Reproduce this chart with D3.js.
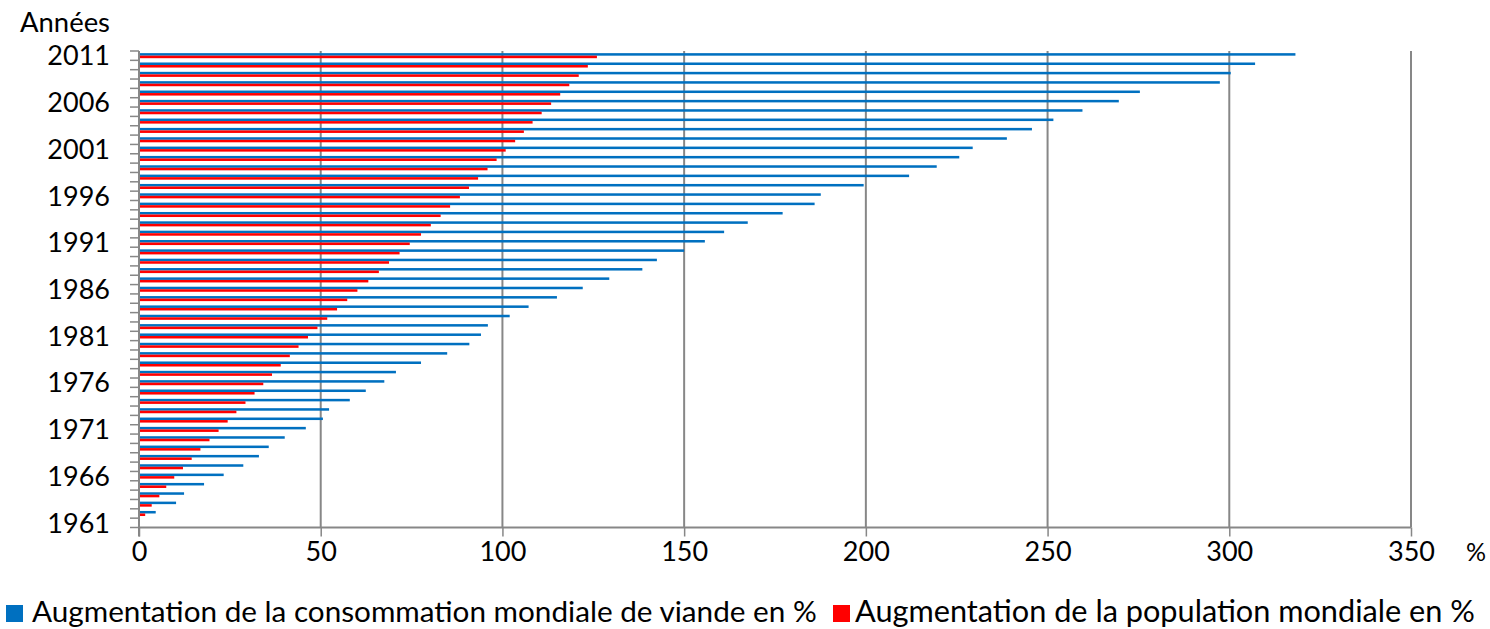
<!DOCTYPE html>
<html>
<head>
<meta charset="utf-8">
<script src="https://cdn.jsdelivr.net/npm/d3@7"></script>
<style>
  body { margin: 0; background: #fff; }
  text { font-family: Lato, "Open Sans", sans-serif; fill: #000; }
</style>
</head>
<body>
<svg width="1490" height="629"></svg>
<script>
// years, bottom (1961) to top (2011)
var years = d3.range(1961, 2012);

// Augmentation de la consommation mondiale de viande en % (1961 -> 2011)
var meat = [0, 4.6, 10.2, 12.4, 17.9, 23.3, 28.7, 33.0, 35.7, 40.1,
  45.9, 50.6, 52.3, 58.0, 62.4, 67.5, 70.7, 77.6, 84.8, 90.9,
  94.1, 96.0, 102.0, 107.2, 115.0, 122.1, 129.4, 138.5, 142.5, 150.0,
  155.7, 161.0, 167.5, 177.1, 185.9, 187.6, 199.4, 211.9, 219.5, 225.7,
  229.4, 238.8, 245.7, 251.6, 259.6, 269.6, 275.4, 297.4, 300.4, 307.1,
  318.2];

// Augmentation de la population mondiale en % (1961 -> 2011)
var population = [0, 1.7, 3.5, 5.6, 7.5, 9.7, 12.1, 14.5, 16.9, 19.4,
  21.9, 24.4, 26.8, 29.3, 31.8, 34.2, 36.6, 39.0, 41.5, 43.9,
  46.5, 49.1, 51.8, 54.5, 57.3, 60.1, 63.1, 66.0, 68.8, 71.7,
  74.5, 77.6, 80.3, 83.0, 85.6, 88.3, 90.8, 93.3, 95.9, 98.4,
  100.9, 103.5, 105.9, 108.3, 110.8, 113.4, 115.9, 118.4, 121.0, 123.5,
  126.0];

var seriesNames = ["Augmentation de la consommation mondiale de viande en %",
                   "Augmentation de la population mondiale en %"];
var seriesColors = ["#0070C0", "#FF0000"];
var xTicks = [0, 50, 100, 150, 200, 250, 300, 350];
var yLabelYears = [2011, 2006, 2001, 1996, 1991, 1986, 1981, 1976, 1971, 1966, 1961];

var gridColor = "#878787";

var svg = d3.select("svg");

var plotLeft = 139, plotRight = 1411, plotTop = 51, plotBottom = 527.5;

var x = d3.scaleLinear().domain([0, 350]).range([plotLeft, plotRight]);
var y = d3.scaleBand().domain(years.slice().reverse()).range([plotTop, plotBottom]);
var inner = d3.scaleBand().domain([0, 1]).range([0, y.bandwidth()])
    .paddingInner(0).paddingOuter(0.85);

var rows = years.map(function (yr, i) {
    return { year: yr, values: [meat[i], population[i]] };
});

// shrink/grow a text's font size so it spans the given width
function fitText(sel, width) {
    var w = sel.node().getComputedTextLength();
    var fs = parseFloat(sel.style("font-size"));
    sel.style("font-size", (fs * width / w) + "px");
}

// vertical gridlines
svg.append("g").selectAll("line")
    .data(xTicks.slice(1))
    .enter().append("line")
    .attr("x1", function (d) { return x(d); })
    .attr("x2", function (d) { return x(d); })
    .attr("y1", plotTop)
    .attr("y2", plotBottom)
    .style("stroke", gridColor)
    .style("stroke-width", 2);

// bars
var groups = svg.append("g").selectAll("g")
    .data(rows)
    .enter().append("g")
    .attr("transform", function (d) { return "translate(0," + y(d.year) + ")"; });

groups.selectAll("rect")
    .data(function (d) { return d.values.map(function (v, k) { return { k: k, v: v }; }); })
    .enter().append("rect")
    .attr("x", x(0))
    .attr("y", function (d) { return inner(d.k); })
    .attr("width", function (d) { return x(d.v) - x(0); })
    .attr("height", inner.bandwidth())
    .attr("fill", function (d) { return seriesColors[d.k]; });

// y axis: ticks on band boundaries
var boundaries = years.map(function (yr) { return y(yr); }).concat([plotBottom]);
svg.append("g").selectAll("line")
    .data(boundaries)
    .enter().append("line")
    .attr("x1", plotLeft - 9)
    .attr("x2", plotLeft)
    .attr("y1", function (d) { return d; })
    .attr("y2", function (d) { return d; })
    .style("stroke", gridColor)
    .style("stroke-width", 1.5);

svg.append("line")
    .attr("x1", plotLeft).attr("x2", plotLeft)
    .attr("y1", plotTop).attr("y2", plotBottom + 9)
    .style("stroke", gridColor)
    .style("stroke-width", 2);

// y labels
var yAxis = d3.axisLeft(y).tickValues(yLabelYears).tickSize(0).tickPadding(0);
var gy = svg.append("g")
    .attr("transform", "translate(110,0)")
    .call(yAxis);
gy.select(".domain").remove();
gy.selectAll("text")
    .attr("dy", "0.36em")
    .style("font-size", "27px");

// x axis
var xAxis = d3.axisBottom(x).tickValues(xTicks).tickSize(9).tickPadding(5);
var gx = svg.append("g")
    .attr("transform", "translate(0," + plotBottom + ")")
    .call(xAxis);
gx.select(".domain").attr("d", "M" + plotLeft + ",0H" + plotRight)
    .style("stroke", gridColor).style("stroke-width", 2);
gx.selectAll(".tick line").style("stroke", gridColor).style("stroke-width", 1.5);
gx.selectAll("text").style("font-size", "27px");

// axis titles
var yTitle = svg.append("text")
    .attr("x", 110).attr("y", 32)
    .attr("text-anchor", "end")
    .style("font-size", "24px")
    .text("Années");
fitText(yTitle, 90);

svg.append("text")
    .attr("x", 1466).attr("y", 561)
    .style("font-size", "25px")
    .text("%");

// legend
var legend = svg.append("g");
var t0 = legend.append("text")
    .attr("x", 32).attr("y", 622)
    .style("font-size", "26px")
    .text(seriesNames[0]);
fitText(t0, 785);

legend.append("rect")
    .attr("x", 6).attr("y", 605)
    .attr("width", 17).attr("height", 17)
    .attr("fill", seriesColors[0]);

legend.append("rect")
    .attr("x", 833).attr("y", 605)
    .attr("width", 17).attr("height", 17)
    .attr("fill", seriesColors[1]);

var t1 = legend.append("text")
    .attr("x", 855).attr("y", 622)
    .style("font-size", "26px")
    .text(seriesNames[1]);
fitText(t1, 620);
</script>
</body>
</html>
